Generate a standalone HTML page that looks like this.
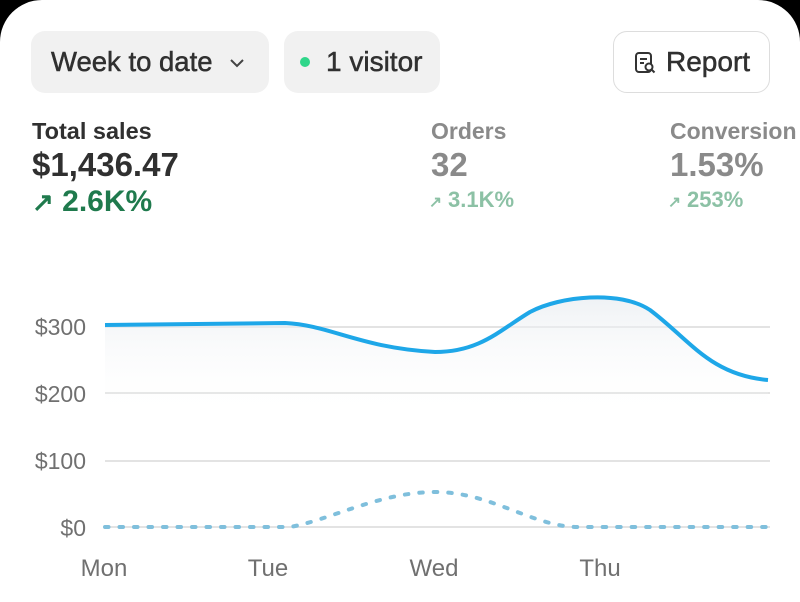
<!DOCTYPE html>
<html><head><meta charset="utf-8"><style>
html,body{margin:0;padding:0;background:#000;}
body{width:800px;height:602px;overflow:hidden;position:relative;font-family:"Liberation Sans",sans-serif;}
.card{position:absolute;left:0;top:0;width:800px;height:602px;background:#fff;border-radius:42px 42px 0 0;}
.btn{position:absolute;top:31px;height:62px;border-radius:14px;background:#f1f1f1;font-size:28px;color:#303030;line-height:62px;-webkit-text-stroke:0.5px #303030;}
.t{position:absolute;white-space:nowrap;}
.a{font-size:0.7em;}
</style></head><body><div class="card">
<div class="btn" style="left:31px;width:238px;"><span style="position:absolute;left:20px;font-size:27.5px">Week to date</span>
<svg style="position:absolute;left:199px;top:28px" width="14" height="9"><path d="M1 1 L7 7 L13 1" stroke="#444" stroke-width="2" fill="none"/></svg></div>
<div class="btn" style="left:284px;width:156px;"><span style="position:absolute;left:16px;top:26px;width:10px;height:10px;border-radius:5px;background:#2fd68a"></span><span style="position:absolute;left:42px;">1 visitor</span></div>
<div class="btn" style="left:613px;width:155px;background:#fff;border:1.5px solid #ddd;height:60px;line-height:60px;">
<svg style="position:absolute;left:20px;top:19px" width="22" height="24"><rect x="2" y="2" width="15" height="19" rx="3" stroke="#333" stroke-width="2" fill="none"/><path d="M6 8h7M6 12h4" stroke="#333" stroke-width="2"/><circle cx="15" cy="16" r="3.5" fill="#fff" stroke="#333" stroke-width="2"/><path d="M17.5 18.5l3 3" stroke="#333" stroke-width="2"/></svg>
<span style="position:absolute;left:52px;">Report</span></div>
<div class="t" style="left:32px;top:118px;font-size:23.5px;font-weight:bold;color:#303030">Total sales</div>
<div class="t" style="left:32px;top:146px;font-size:33px;font-weight:bold;color:#303030">$1,436.47</div>
<div class="t" style="left:32px;top:185px;font-size:30px;font-weight:bold;color:#1f7a4d"><span style="font-size:26px">↗</span> 2.6K%</div>
<div class="t" style="left:431px;top:118px;font-size:23px;font-weight:bold;color:#8a8a8a">Orders</div>
<div class="t" style="left:431px;top:146px;font-size:33px;font-weight:bold;color:#8a8a8a">32</div>
<div class="t" style="left:429px;top:187px;font-size:22px;font-weight:bold;color:#8cc1a5"><span class="a">↗</span> 3.1K%</div>
<div class="t" style="left:670px;top:118px;font-size:23px;font-weight:bold;color:#8a8a8a">Conversion</div>
<div class="t" style="left:670px;top:146px;font-size:33px;font-weight:bold;color:#8a8a8a">1.53%</div>
<div class="t" style="left:668px;top:187px;font-size:22px;font-weight:bold;color:#8cc1a5"><span class="a">↗</span> 253%</div>
<svg style="position:absolute;left:0;top:0" width="800" height="602">
<defs><linearGradient id="g" x1="0" y1="0" x2="0" y2="1"><stop offset="0" stop-color="#e8ecf0" stop-opacity=".7"/><stop offset="1" stop-color="#fff" stop-opacity="0"/></linearGradient></defs>
<g stroke="#e3e3e3" stroke-width="2"><line x1="105" y1="327" x2="770" y2="327"/><line x1="105" y1="393" x2="770" y2="393"/><line x1="105" y1="461" x2="770" y2="461"/><line x1="105" y1="527" x2="770" y2="527"/></g>
<path d="M105 325 L285 323 C330 325 360 348 435 352 C480 352 500 330 530 312 C560 296 620 290 650 310 C690 340 710 375 768 380 L768 420 L105 420 Z" fill="url(#g)"/>
<path d="M105 325 L285 323 C330 325 360 348 435 352 C480 352 500 330 530 312 C560 296 620 290 650 310 C690 340 710 375 768 380" fill="none" stroke="#1ea7e8" stroke-width="4"/>
<path d="M105 527 L290 527 C330 520 380 492 435 492 C490 492 530 525 575 527 L768 527" fill="none" stroke="#7fbfdc" stroke-width="4" stroke-dasharray="3.5 11" stroke-linecap="round"/>
<g font-size="23" fill="#707070" text-anchor="end"><text x="86" y="335">$300</text><text x="86" y="402">$200</text><text x="86" y="469">$100</text><text x="86" y="536">$0</text></g>
<g font-size="24" fill="#707070" text-anchor="middle"><text x="104" y="576">Mon</text><text x="268" y="576">Tue</text><text x="434" y="576">Wed</text><text x="600" y="576">Thu</text></g>
</svg>
</div></body></html>
